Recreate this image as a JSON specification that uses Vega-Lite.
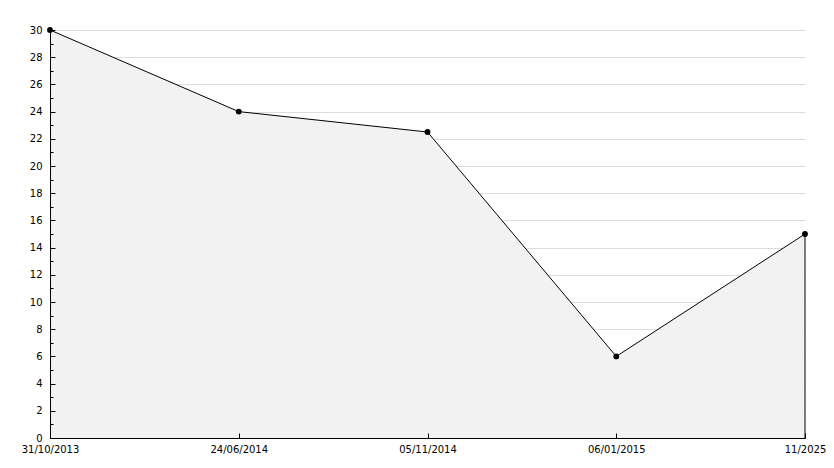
{
  "$schema": "https://vega.github.io/schema/vega-lite/v6.json",
  "autosize": "none",
  "width": 755,
  "height": 408,
  "padding": {"left": 50, "top": 30, "right": 29, "bottom": 30},
  "background": "white",
  "config": {
    "view": {"stroke": null},
    "font": "DejaVu Sans",
    "axis": {
      "labelFont": "DejaVu Sans",
      "labelFontSize": 10,
      "labelColor": "#000000",
      "domainColor": "#000000",
      "tickColor": "#000000",
      "title": null
    }
  },
  "data": {
    "values": [
      {"date": "31/10/2013", "value": 30},
      {"date": "24/06/2014", "value": 24},
      {"date": "05/11/2014", "value": 22.5},
      {"date": "06/01/2015", "value": 6},
      {"date": "11/2025", "value": 15}
    ]
  },
  "encoding": {
    "x": {
      "field": "date",
      "type": "ordinal",
      "sort": null,
      "scale": {"type": "point", "padding": 0},
      "axis": {
        "labelAngle": 0,
        "tickSize": -5,
        "labelPadding": 11,
        "grid": false,
        "zindex": 1,
        "labelFlush": false
      }
    }
  },
  "resolve": {"axis": {"y": "independent"}},
  "layer": [
    {
      "mark": {"type": "area", "color": "#f2f2f2", "opacity": 1},
      "encoding": {
        "y": {
          "field": "value",
          "type": "quantitative",
          "scale": {"domain": [0, 30], "nice": false},
          "axis": {
            "orient": "left",
            "values": [0,2,4,6,8,10,12,14,16,18,20,22,24,26,28,30],
            "grid": true,
            "gridColor": "#dddddd",
            "domain": false,
            "ticks": false,
            "labels": false,
            "zindex": 0
          }
        }
      }
    },
    {
      "mark": {"type": "line", "color": "#000000", "strokeWidth": 1},
      "encoding": {
        "y": {
          "field": "value",
          "type": "quantitative",
          "scale": {"domain": [0, 30], "nice": false},
          "axis": {
            "orient": "left",
            "values": [0,1,2,3,4,5,6,7,8,9,10,11,12,13,14,15,16,17,18,19,20,21,22,23,24,25,26,27,28,29,30],
            "labelExpr": "datum.value % 2 === 0 ? datum.label : ''",
            "tickSize": {"condition": {"test": "datum.value % 2 === 0", "value": -5}, "value": -3},
            "labelPadding": 13,
            "grid": false,
            "zindex": 1,
            "labelFlush": false,
            "labelOverlap": false
          }
        }
      }
    },
    {
      "transform": [{"filter": "datum.date === '11/2025'"}],
      "mark": {"type": "rule", "color": "#000000", "strokeWidth": 1},
      "encoding": {
        "y": {"field": "value", "type": "quantitative", "axis": null},
        "y2": {"datum": 0}
      }
    },
    {
      "mark": {"type": "point", "shape": "circle", "filled": true, "color": "#000000", "size": 34, "opacity": 1},
      "encoding": {"y": {"field": "value", "type": "quantitative", "axis": null}}
    }
  ]
}
